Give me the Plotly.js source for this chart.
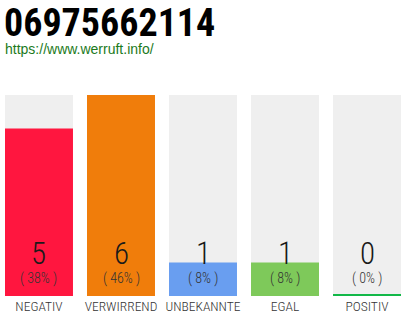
<!DOCTYPE html>
<html><head><meta charset="utf-8">
<script src="https://cdn.plot.ly/plotly-3.0.1.min.js"></script>
<style>html,body{margin:0;padding:0;background:#fff;}#c{width:410px;height:320px;}</style>
</head><body><div id="c"></div>
<script>
const categories = ["NEGATIV", "VERWIRREND", "UNBEKANNTE", "EGAL", "POSITIV"];
const values = [5, 6, 1, 1, 0];
const percents = ["( 38% )", "( 46% )", "( 8% )", "( 8% )", "( 0% )"];
const colors = ["#ff163f", "#f07d0b", "#699ef0", "#7ec95a", "#12b848"];
const titleText = "06975662114";
const subtitleText = "https://www.werruft.info/";

const maxVal = Math.max(...values);
const narrow = "Roboto Condensed, sans-serif";
const gap = 0.171;
const half = (1 - gap) / 2;

const bg = {type:"bar", x:categories, y:categories.map(()=>maxVal), marker:{color:"#efefef"}, hoverinfo:"skip", showlegend:false};
const fg = {type:"bar", x:categories, y:values, marker:{color:colors}, hoverinfo:"skip", showlegend:false};

const annotations = [];
categories.forEach((c,i)=>{
  annotations.push({x:c, y:0, xref:"x", yref:"y", text:String(values[i]), showarrow:false, yanchor:"middle", yshift:43, font:{family:narrow, size:31, weight:300, color:"#1a1a1a"}});
  annotations.push({x:c, y:0, xref:"x", yref:"y", text:percents[i], showarrow:false, yanchor:"middle", yshift:18, font:{family:narrow, size:14, weight:300, color:"#333"}});
});
annotations.push({xref:"paper", yref:"paper", x:0, y:(296-49)/201, xanchor:"left", yanchor:"middle", xshift:-2, text:subtitleText, showarrow:false, font:{family:"Liberation Sans, Arial, sans-serif", size:14, color:"#1c7a1c"}});

const shapes = [];
values.forEach((v,i)=>{
  if (v===0) shapes.push({type:"rect", xref:"x", yref:"y", x0:i-half, x1:i+half, ysizemode:"pixel", yanchor:0, y0:0, y1:2, line:{width:0}, fillcolor:colors[i]});
});

const layout = {
  width:410, height:320,
  margin:{l:5, r:9, t:95, b:24, pad:0},
  paper_bgcolor:"#fff", plot_bgcolor:"#fff",
  barmode:"overlay", bargap:gap,
  title:{text:"<b>"+titleText+"</b>", x:4/410, xanchor:"left", xref:"container", yref:"container", y:1-23/320, yanchor:"middle", pad:{t:0,b:0,l:0,r:0}, font:{family:narrow, size:38, color:"#000"}},
  xaxis:{type:"category", range:[-half, categories.length-1+half], showgrid:false, zeroline:false, showline:false, ticks:"", tickangle:0, automargin:false, tickfont:{family:narrow, size:13.5, weight:300, color:"#333"}, fixedrange:true},
  yaxis:{range:[0,maxVal], visible:false, fixedrange:true, automargin:false},
  annotations, shapes
};
Plotly.newPlot("c", [bg, fg], layout, {displayModeBar:false, staticPlot:true});
</script></body></html>
